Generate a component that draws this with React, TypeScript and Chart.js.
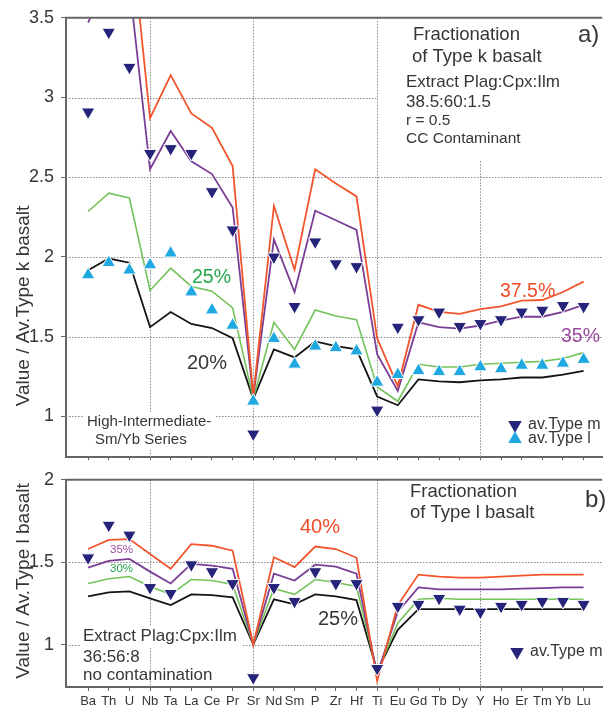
import React, { useEffect, useRef } from 'react';
import { Chart, registerables } from 'chart.js';

Chart.register(...registerables);

const FONT = '"Liberation Sans", Arial, Helvetica, sans-serif';

// ---------------- data ----------------
const elements = ['Ba', 'Th', 'U', 'Nb', 'Ta', 'La', 'Ce', 'Pr', 'Sr', 'Nd', 'Sm', 'P', 'Zr', 'Hf', 'Ti', 'Eu', 'Gd', 'Tb', 'Dy', 'Y', 'Ho', 'Er', 'Tm', 'Yb', 'Lu'];

const yTicksA = [1, 1.5, 2, 2.5, 3, 3.5];
const yTicksB = [1, 1.5, 2];

// panel a) Fractionation of Type k basalt
const aTypeM = [2.91, 3.41, 3.19, 2.65, 2.68, 2.65, 2.41, 2.17, 0.89, 2.0, 1.69, 2.095, 1.958, 1.94, 1.04, 1.56, 1.607, 1.655, 1.565, 1.583, 1.607, 1.655, 1.667, 1.696, 1.69];
const aTypeL = [1.887, 1.964, 1.917, 1.95, 2.024, 1.78, 1.667, 1.571, 1.095, 1.488, 1.327, 1.44, 1.43, 1.41, 1.214, 1.262, 1.286, 1.28, 1.28, 1.31, 1.298, 1.32, 1.32, 1.333, 1.357];
const aF375 = [3.9, 4.2, 4.13, 2.87, 3.14, 2.9, 2.81, 2.57, 1.13, 2.32, 1.92, 2.55, 2.46, 2.38, 1.49, 1.19, 1.7, 1.655, 1.643, 1.673, 1.69, 1.726, 1.73, 1.78, 1.845];
const aF35 = [3.47, 3.75, 3.71, 2.55, 2.79, 2.6, 2.52, 2.31, 1.12, 2.11, 1.78, 2.29, 2.23, 2.17, 1.39, 1.16, 1.59, 1.56, 1.55, 1.57, 1.6, 1.625, 1.625, 1.655, 1.7];
const aF25 = [2.285, 2.4, 2.37, 1.79, 1.93, 1.815, 1.785, 1.68, 1.11, 1.59, 1.42, 1.667, 1.63, 1.607, 1.185, 1.095, 1.327, 1.31, 1.31, 1.327, 1.333, 1.34, 1.345, 1.363, 1.4];
const aF20 = [1.917, 1.99, 1.964, 1.56, 1.655, 1.58, 1.554, 1.49, 1.11, 1.42, 1.37, 1.47, 1.44, 1.42, 1.125, 1.07, 1.232, 1.22, 1.214, 1.226, 1.232, 1.244, 1.244, 1.262, 1.286];

// panel b) Fractionation of Type l basalt
const bTypeM = [1.527, 1.725, 1.665, 1.347, 1.311, 1.485, 1.443, 1.371, 0.8, 1.347, 1.263, 1.443, 1.371, 1.371, 0.856, 1.233, 1.245, 1.281, 1.216, 1.198, 1.233, 1.245, 1.263, 1.263, 1.245];
const bF40 = [1.58, 1.635, 1.64, 1.55, 1.46, 1.61, 1.6, 1.57, 1.0, 1.53, 1.47, 1.595, 1.58, 1.527, 0.78, 1.24, 1.425, 1.413, 1.407, 1.407, 1.413, 1.419, 1.425, 1.425, 1.425];
const bF35 = [1.467, 1.508, 1.52, 1.443, 1.371, 1.49, 1.479, 1.46, 1.0, 1.43, 1.389, 1.485, 1.473, 1.43, 0.82, 1.2, 1.347, 1.335, 1.335, 1.335, 1.335, 1.34, 1.343, 1.347, 1.347];
const bF30 = [1.371, 1.4, 1.413, 1.353, 1.305, 1.395, 1.389, 1.365, 1.0, 1.341, 1.305, 1.395, 1.377, 1.353, 0.83, 1.13, 1.275, 1.281, 1.275, 1.275, 1.275, 1.275, 1.275, 1.275, 1.275];
const bF25 = [1.293, 1.317, 1.323, 1.281, 1.24, 1.305, 1.3, 1.287, 1.0, 1.275, 1.245, 1.305, 1.293, 1.27, 0.84, 1.09, 1.216, 1.216, 1.216, 1.216, 1.216, 1.216, 1.216, 1.216, 1.216];

// ---------------- styles ----------------
const X_MIN = -1.07;
const X_MAX = 24.9;
const RED = '#f2552c';
const PURPLE = '#7a3e96';
const GREEN = '#74c35a';
const BLACK = '#141414';
const NAVY = '#25247a';
const CYAN = '#20a8e0';
const AXIS = '#666666';
const TEXT = '#363636';
const MARK_R = 7.8;

const pts = (arr: number[]) => arr.map((y, x) => ({ x, y }));

type Txt = { t: string; x: number; y: number; size: number; color?: string };
type HLine = { v: number; from?: number; to?: number };
type VLine = { i: number; from?: number; to?: number };
type Box = { x: number; y: number; w: number; h: number };

function tri(ctx: CanvasRenderingContext2D, x: number, y: number, r: number, down: boolean, fill: string) {
  ctx.save();
  ctx.fillStyle = fill;
  ctx.beginPath();
  const s = down ? -1 : 1;
  ctx.moveTo(x, y - s * r);
  ctx.lineTo(x + Math.sin((2 * Math.PI) / 3) * r, y + (s * r) / 2);
  ctx.lineTo(x - Math.sin((2 * Math.PI) / 3) * r, y + (s * r) / 2);
  ctx.closePath();
  ctx.fill();
  ctx.restore();
}

function makeOverlay(opts: {
  offsetY: number;
  hLines: HLine[];
  vLines: VLine[];
  boxes: Box[];
  texts: Txt[];
  legend: { x: number; y: number; down: boolean; fill: string; label: string }[];
  title: { t: string; x: number; y: number };
}) {
  return {
    id: 'overlay',
    beforeDatasetsDraw(chart: any) {
      const { ctx, chartArea: ca, scales } = chart;
      const xs = scales.x;
      const ys = scales.y;
      const oy = opts.offsetY;
      ctx.save();
      ctx.strokeStyle = '#8a8a8a';
      ctx.lineWidth = 1;
      ctx.setLineDash([1.5, 1.5]);
      for (const g of opts.hLines) {
        const py = Math.round(ys.getPixelForValue(g.v)) + 0.5;
        const x1 = g.from == null ? ca.left : xs.getPixelForValue(g.from);
        const x2 = g.to == null ? ca.right : xs.getPixelForValue(g.to);
        ctx.beginPath();
        ctx.moveTo(x1, py);
        ctx.lineTo(x2, py);
        ctx.stroke();
      }
      for (const g of opts.vLines) {
        const px = Math.round(xs.getPixelForValue(g.i)) + 0.5;
        const y1 = g.to == null ? ca.top : ys.getPixelForValue(g.to);
        const y2 = g.from == null ? ca.bottom : ys.getPixelForValue(g.from);
        ctx.beginPath();
        ctx.moveTo(px, y1);
        ctx.lineTo(px, y2);
        ctx.stroke();
      }
      ctx.setLineDash([]);
      ctx.fillStyle = '#ffffff';
      for (const b of opts.boxes) ctx.fillRect(b.x, b.y - oy, b.w, b.h);
      ctx.textBaseline = 'middle';
      ctx.textAlign = 'left';
      for (const t of opts.texts) {
        ctx.font = `${t.size}px ${FONT}`;
        ctx.fillStyle = t.color || TEXT;
        ctx.fillText(t.t, t.x, t.y - oy);
      }
      ctx.font = `16px ${FONT}`;
      for (const l of opts.legend) {
        tri(ctx, l.x, l.y - oy, MARK_R, l.down, l.fill);
        ctx.fillStyle = TEXT;
        ctx.fillText(l.label, l.x + 13, l.y - oy);
      }
      ctx.restore();
    },
    afterDatasetsDraw(chart: any) {
      const { ctx, chartArea: ca } = chart;
      ctx.save();
      ctx.strokeStyle = AXIS;
      ctx.lineWidth = 2;
      ctx.beginPath();
      ctx.moveTo(ca.left - 1, ca.top);
      ctx.lineTo(ca.right, ca.top);
      ctx.stroke();
      ctx.restore();
    },
    afterDraw(chart: any) {
      const { ctx } = chart;
      ctx.save();
      ctx.translate(opts.title.x, opts.title.y - opts.offsetY);
      ctx.rotate(-Math.PI / 2);
      ctx.font = `19px ${FONT}`;
      ctx.fillStyle = TEXT;
      ctx.textAlign = 'center';
      ctx.textBaseline = 'middle';
      ctx.fillText(opts.title.t, 0, 0);
      ctx.restore();
    },
  };
}

function lineDs(label: string, arr: number[], color: string, width = 1.8) {
  return {
    label,
    data: pts(arr),
    borderColor: color,
    backgroundColor: color,
    borderWidth: width,
    pointRadius: 0,
    tension: 0,
    fill: false,
    order: 1,
  };
}

function markerDs(label: string, arr: number[], color: string, down: boolean) {
  return {
    label,
    data: pts(arr),
    showLine: false,
    pointStyle: 'triangle',
    pointRotation: down ? 180 : 0,
    pointRadius: MARK_R,
    pointBackgroundColor: color,
    pointBorderColor: '#ffffff',
    pointBorderWidth: 1,
    order: 0,
  };
}

function makeConfig(p: {
  datasets: any[];
  yMin: number;
  yMax: number;
  yTicks: number[];
  showXLabels: boolean;
  xHeight: number;
  padTop: number;
  overlay: any;
}) {
  return {
    type: 'line',
    data: { datasets: p.datasets },
    options: {
      responsive: false,
      animation: false,
      events: [],
      layout: { padding: { top: p.padTop, right: 0, bottom: 0, left: 0 } },
      plugins: { legend: { display: false }, tooltip: { enabled: false } },
      scales: {
        x: {
          type: 'linear',
          min: X_MIN,
          max: X_MAX,
          afterBuildTicks: (s: any) => {
            s.ticks = elements.map((_, i) => ({ value: i }));
          },
          ticks: {
            autoSkip: false,
            maxRotation: 0,
            minRotation: 0,
            padding: 3,
            color: TEXT,
            font: { family: FONT, size: 13 },
            callback: (v: any) => (p.showXLabels ? elements[Math.round(v)] ?? '' : ''),
          },
          grid: { drawOnChartArea: false, tickLength: p.showXLabels ? 4 : 3, tickColor: AXIS, tickWidth: 1 },
          border: { color: AXIS, width: 2 },
          afterFit: (s: any) => {
            s.height = p.xHeight;
          },
        },
        y: {
          type: 'linear',
          min: p.yMin,
          max: p.yMax,
          afterBuildTicks: (s: any) => {
            s.ticks = p.yTicks.map((v) => ({ value: v }));
          },
          ticks: {
            padding: 7,
            color: TEXT,
            font: { family: FONT, size: 18 },
            callback: (v: any) => String(v),
          },
          grid: { drawOnChartArea: false, tickLength: 5, tickColor: AXIS, tickWidth: 1 },
          border: { color: AXIS, width: 2 },
          afterFit: (s: any) => {
            s.width = 66;
          },
        },
      },
    },
    plugins: [p.overlay],
  } as any;
}

const BOTTOM_TOP = 462;

export default function App() {
  const topRef = useRef<HTMLCanvasElement>(null);
  const botRef = useRef<HTMLCanvasElement>(null);

  useEffect(() => {
    const overlayA = makeOverlay({
      offsetY: 0,
      hLines: [{ v: 3, to: 14 }, { v: 2.5 }, { v: 2 }, { v: 1.5 }, { v: 1, to: 19 }],
      vLines: [{ i: 3 }, { i: 8 }, { i: 14 }, { i: 19, to: 2.6 }],
      boxes: [{ x: 84, y: 412, w: 132, h: 38 }],
      texts: [
        { t: 'Fractionation', x: 413, y: 35, size: 18.5 },
        { t: 'of Type k basalt', x: 412, y: 57, size: 18.5 },
        { t: 'a)', x: 578, y: 35, size: 24 },
        { t: 'Extract Plag:Cpx:Ilm', x: 406, y: 82, size: 17 },
        { t: '38.5:60:1.5', x: 406, y: 102, size: 17 },
        { t: 'r = 0.5', x: 406, y: 121, size: 15.5 },
        { t: 'CC Contaminant', x: 406, y: 139, size: 15.5 },
        { t: '25%', x: 192, y: 278, size: 19.5, color: '#26a84c' },
        { t: '20%', x: 187, y: 363, size: 20 },
        { t: '37.5%', x: 500, y: 292, size: 19.5, color: '#f04a28' },
        { t: '35%', x: 561, y: 337, size: 19.5, color: '#9a4a9e' },
        { t: 'High-Intermediate-', x: 87, y: 422, size: 15 },
        { t: 'Sm/Yb Series', x: 95, y: 440, size: 15 },
      ],
      legend: [
        { x: 515, y: 425, down: true, fill: NAVY, label: 'av.Type m' },
        { x: 515, y: 439, down: false, fill: CYAN, label: 'av.Type l' },
      ],
      title: { t: 'Value / Av.Type k basalt', x: 24, y: 306 },
    });

    const overlayB = makeOverlay({
      offsetY: BOTTOM_TOP,
      hLines: [{ v: 1.5 }, { v: 1, to: 19 }],
      vLines: [{ i: 3 }, { i: 8 }, { i: 14 }, { i: 19, to: 1.38 }],
      boxes: [{ x: 81, y: 626, w: 162, h: 22 }],
      texts: [
        { t: 'Fractionation', x: 410, y: 492, size: 18.5 },
        { t: 'of Type l basalt', x: 410, y: 513, size: 18.5 },
        { t: 'b)', x: 585, y: 500, size: 24 },
        { t: '40%', x: 300, y: 527, size: 20, color: '#f04a28' },
        { t: '35%', x: 110, y: 550, size: 11.5, color: '#9a4a9e' },
        { t: '30%', x: 110, y: 569, size: 11.5, color: '#26a84c' },
        { t: '25%', x: 318, y: 619, size: 20 },
        { t: 'Extract Plag:Cpx:Ilm', x: 83, y: 636, size: 17 },
        { t: '36:56:8', x: 83, y: 657, size: 17 },
        { t: 'no contamination', x: 83, y: 675, size: 17 },
      ],
      legend: [{ x: 517, y: 652, down: true, fill: NAVY, label: 'av.Type m' }],
      title: { t: 'Value / Av.Type l basalt', x: 24, y: 581 },
    });

    const a = new Chart(
      topRef.current as HTMLCanvasElement,
      makeConfig({
        datasets: [
          markerDs('av.Type m', aTypeM, NAVY, true),
          markerDs('av.Type l', aTypeL, CYAN, false),
          lineDs('37.5%', aF375, RED),
          lineDs('35%', aF35, PURPLE),
          lineDs('25%', aF25, GREEN, 1.6),
          lineDs('20%', aF20, BLACK),
        ],
        yMin: 0.744,
        yMax: 3.5,
        yTicks: yTicksA,
        showXLabels: false,
        xHeight: 2,
        padTop: 10,
        overlay: overlayA,
      })
    );

    const b = new Chart(
      botRef.current as HTMLCanvasElement,
      makeConfig({
        datasets: [
          markerDs('av.Type m', bTypeM, NAVY, true),
          lineDs('40%', bF40, RED),
          lineDs('35%', bF35, PURPLE),
          lineDs('30%', bF30, GREEN, 1.6),
          lineDs('25%', bF25, BLACK),
        ],
        yMin: 0.743,
        yMax: 2,
        yTicks: yTicksB,
        showXLabels: true,
        xHeight: 25,
        padTop: 15,
        overlay: overlayB,
      })
    );

    return () => {
      a.destroy();
      b.destroy();
    };
  }, []);

  return (
    <div style={{ position: 'absolute', left: 0, top: 0, width: 611, height: 712, background: '#ffffff' }}>
      <canvas ref={topRef} width={611} height={475} style={{ position: 'absolute', left: 0, top: 0, width: 611, height: 475 }} />
      <canvas ref={botRef} width={611} height={250} style={{ position: 'absolute', left: 0, top: BOTTOM_TOP, width: 611, height: 250 }} />
    </div>
  );
}
